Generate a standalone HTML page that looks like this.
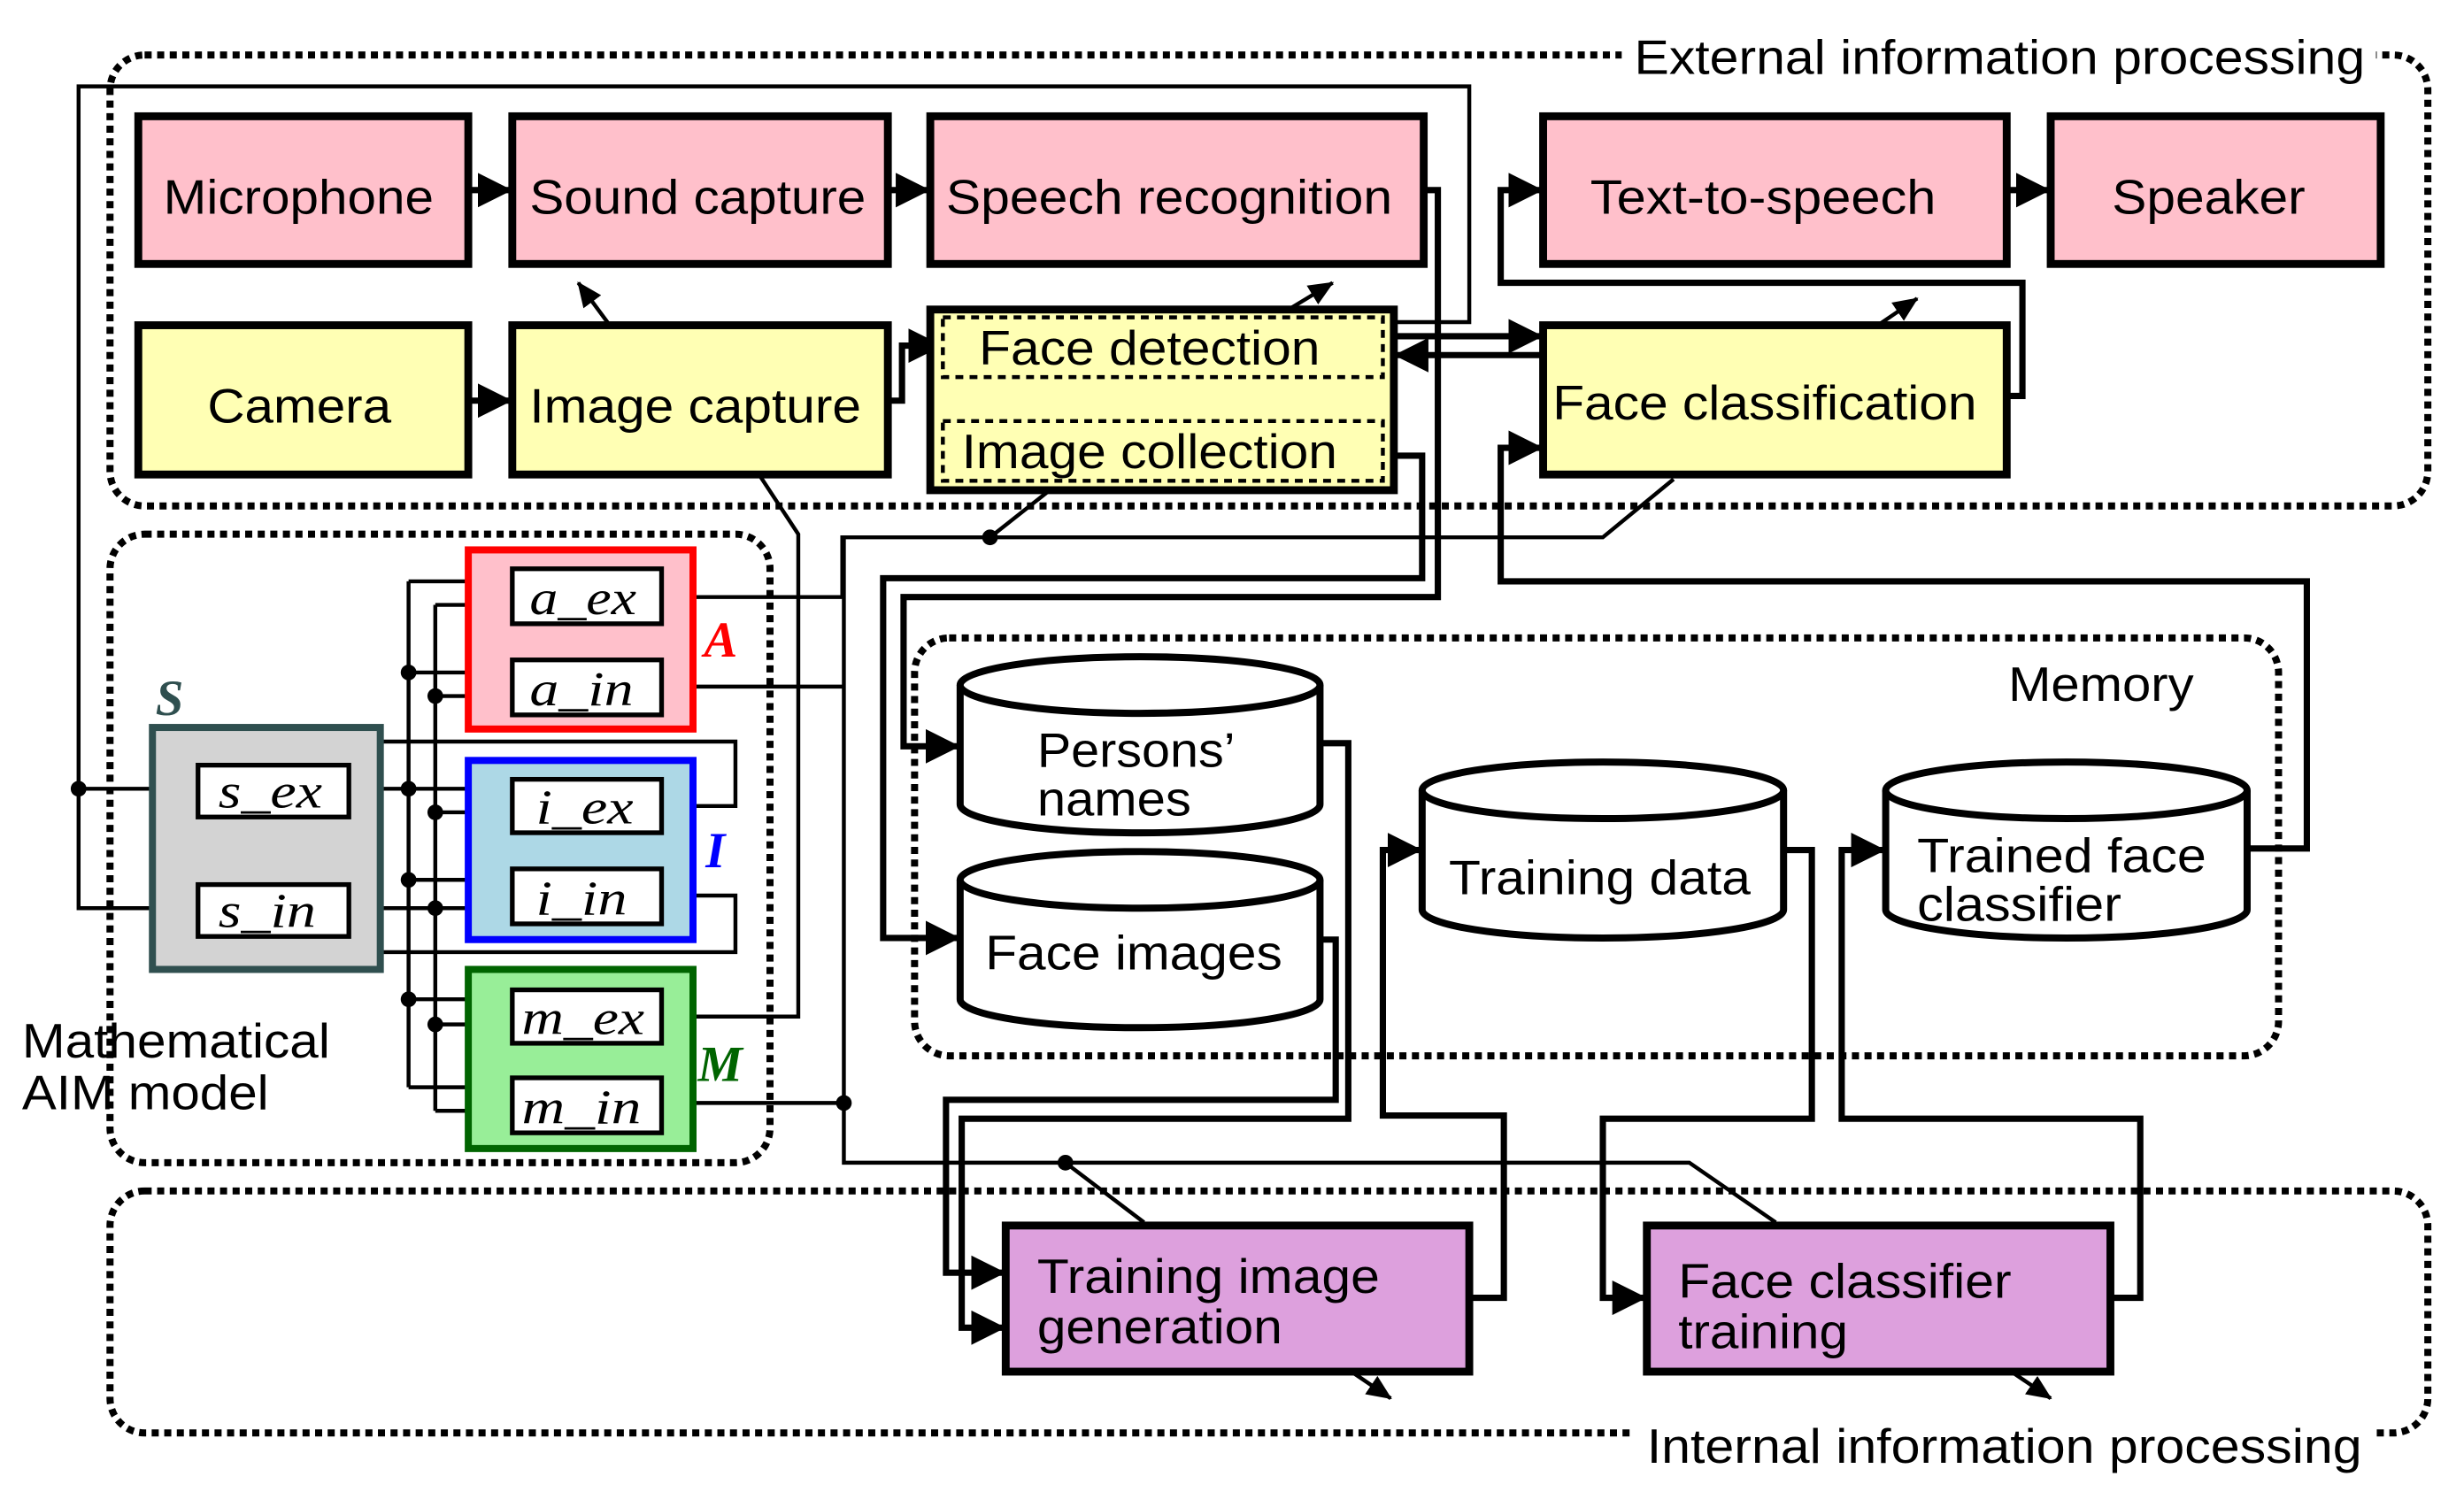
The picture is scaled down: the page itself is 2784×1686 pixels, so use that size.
<!DOCTYPE html>
<html><head><meta charset="utf-8"><style>
html,body{margin:0;padding:0;background:#fff}
svg{display:block}
text{font-family:"Liberation Sans",sans-serif;fill:#000}
.s{font-family:"Liberation Serif",serif;font-style:italic}
</style></head><body>
<svg width="2784" height="1686" viewBox="0 0 1568 949.6" xmlns="http://www.w3.org/2000/svg">
<defs>
<marker id="b" markerWidth="22" markerHeight="22" refX="20" refY="11" orient="auto" markerUnits="userSpaceOnUse"><path d="M0,0 L22,11 L0,22z"/></marker>
<marker id="c" markerWidth="16" markerHeight="16" refX="15" refY="8" orient="auto" markerUnits="userSpaceOnUse"><path d="M0,1 L16,8 L0,15z"/></marker>
</defs>

<g fill="none" stroke="#000" stroke-width="4.5" stroke-dasharray="4.5 3.5">
<rect x="70" y="35" width="1475" height="287" rx="22"/>
<rect x="582" y="406" width="868" height="266" rx="22"/>
<rect x="70" y="340" width="420" height="400" rx="22"/>
<rect x="70" y="758" width="1475" height="154" rx="22"/>
</g>
<rect x="1032" y="18" width="480" height="36" fill="#fff"/>
<text x="1040" y="47" font-size="31" textLength="465" lengthAdjust="spacingAndGlyphs">External information processing</text>
<rect x="1040" y="896" width="470" height="40" fill="#fff"/>
<text x="1048" y="931" font-size="31" textLength="455" lengthAdjust="spacingAndGlyphs">Internal information processing</text>
<g font-size="31" lengthAdjust="spacingAndGlyphs">
<text x="1278" y="446" textLength="118" lengthAdjust="spacingAndGlyphs">Memory</text>
<text x="14" y="673" textLength="196" lengthAdjust="spacingAndGlyphs">Mathematical</text>
<text x="14" y="706" textLength="157" lengthAdjust="spacingAndGlyphs">AIM model</text>
</g>

<g fill="none" stroke="#000" stroke-width="2.5">
<path d="M50,502 V55 H935 V205 H888"/>
<path d="M50,502 H124" marker-end="url(#c)"/>
<path d="M50,502 V578 H124" marker-end="url(#c)"/>
<path d="M222,502 H260 M222,578 H277"/>
<path d="M260,370 V692 M277,385 V707"/>
<path d="M260,370 H324" marker-end="url(#c)"/><path d="M277,385 H324" marker-end="url(#c)"/>
<path d="M260,428 H324" marker-end="url(#c)"/><path d="M277,443 H324" marker-end="url(#c)"/>
<path d="M260,502 H324" marker-end="url(#c)"/><path d="M277,517 H324" marker-end="url(#c)"/>
<path d="M260,560 H324" marker-end="url(#c)"/><path d="M277,578 H324" marker-end="url(#c)"/>
<path d="M260,636 H324" marker-end="url(#c)"/><path d="M277,652 H324" marker-end="url(#c)"/>
<path d="M260,692 H324" marker-end="url(#c)"/><path d="M277,707 H324" marker-end="url(#c)"/>
<path d="M421,513 H468 V472 H196 L185,486"/>
<path d="M421,570 H468 V606 H212 L200,596"/>
<path d="M160,522 L135,540" marker-end="url(#c)"/>
<path d="M165,563 L145,543" marker-end="url(#c)"/>
<path d="M421,380 H536 V342 H630 M630,342 H1020 L1065,305"/>
<path d="M630,342 L668,312"/>
<path d="M421,437 H536"/>
<path d="M421,647 H508 V340 L483,302"/>
<path d="M421,702 H537 V342"/>
<path d="M537,702 V740 H1075 L1130,778"/>
<path d="M678,740 L728,778"/>
<path d="M388,207 L368,180" marker-end="url(#c)"/>
<path d="M820,197 L848,180" marker-end="url(#c)"/>
<path d="M1195,207 L1220,190" marker-end="url(#c)"/>
<path d="M860,873 L885,890" marker-end="url(#c)"/>
<path d="M1280,873 L1305,890" marker-end="url(#c)"/>
</g>
<g fill="#000">
<circle cx="50" cy="502" r="5"/><circle cx="260" cy="428" r="5"/><circle cx="277" cy="443" r="5"/>
<circle cx="260" cy="502" r="5"/><circle cx="277" cy="517" r="5"/><circle cx="260" cy="560" r="5"/>
<circle cx="277" cy="578" r="5"/><circle cx="260" cy="636" r="5"/><circle cx="277" cy="652" r="5"/>
<circle cx="630" cy="342" r="5"/><circle cx="537" cy="702" r="5"/><circle cx="678" cy="740" r="5"/>
</g>

<g fill="none" stroke="#000" stroke-width="4">
<path d="M298,121 H324" marker-end="url(#b)"/>
<path d="M565,121 H590" marker-end="url(#b)"/>
<path d="M298,255 H324" marker-end="url(#b)"/>
<path d="M565,255 H574 V220 H598" marker-end="url(#b)"/>
<path d="M1277,121 H1303" marker-end="url(#b)"/>
<path d="M735,240 V266" marker-end="url(#b)"/>
<path d="M887,214 H980" marker-end="url(#b)"/>
<path d="M980,226 H889" marker-end="url(#b)"/>
<path d="M906,121 H915 V380 H575 V475 H609" marker-end="url(#b)"/>
<path d="M880,290 H905 V368 H562 V597 H609" marker-end="url(#b)"/>
<path d="M1277,252 H1287 V180 H955 V121 H980" marker-end="url(#b)"/>
<path d="M1430,540 H1468 V370 H955 V285 H980" marker-end="url(#b)"/>
<path d="M840,473 H858 V712 H612 V845 H638" marker-end="url(#b)"/>
<path d="M840,598 H850 V700 H602 V810 H638" marker-end="url(#b)"/>
<path d="M935,826 H957 V710 H880 V541 H903" marker-end="url(#b)"/>
<path d="M1135,541 H1153 V712 H1020 V826 H1046" marker-end="url(#b)"/>
<path d="M1343,826 H1362 V712 H1172 V541 H1198" marker-end="url(#b)"/>
</g>

<g stroke="#000" stroke-width="5">
<rect x="88" y="74" width="210" height="94" fill="#ffc0cb"/>
<rect x="326" y="74" width="239" height="94" fill="#ffc0cb"/>
<rect x="592" y="74" width="314" height="94" fill="#ffc0cb"/>
<rect x="982" y="74" width="295" height="94" fill="#ffc0cb"/>
<rect x="1305" y="74" width="210" height="94" fill="#ffc0cb"/>
<rect x="88" y="207" width="210" height="95" fill="#ffffb4"/>
<rect x="326" y="207" width="239" height="95" fill="#ffffb4"/>
<rect x="592" y="197" width="295" height="115" fill="#ffffb4"/>
<rect x="982" y="207" width="295" height="95" fill="#ffffb4"/>
<rect x="640" y="780" width="295" height="93" fill="#dda0dd"/>
<rect x="1048" y="780" width="295" height="93" fill="#dda0dd"/>
</g>
<g fill="none" stroke="#000" stroke-width="2.5" stroke-dasharray="5 4">
<rect x="600" y="202" width="280" height="38"/>
<rect x="600" y="268" width="280" height="38"/>
</g>
<g font-size="31">
<text x="104" y="136" textLength="172" lengthAdjust="spacingAndGlyphs">Microphone</text>
<text x="337" y="136" textLength="214" lengthAdjust="spacingAndGlyphs">Sound capture</text>
<text x="602" y="136" textLength="284" lengthAdjust="spacingAndGlyphs">Speech recognition</text>
<text x="1012" y="136" textLength="220" lengthAdjust="spacingAndGlyphs">Text-to-speech</text>
<text x="1344" y="136" textLength="123" lengthAdjust="spacingAndGlyphs">Speaker</text>
<text x="132" y="269" textLength="117" lengthAdjust="spacingAndGlyphs">Camera</text>
<text x="337" y="269" textLength="211" lengthAdjust="spacingAndGlyphs">Image capture</text>
<text x="623" y="232" textLength="217" lengthAdjust="spacingAndGlyphs">Face detection</text>
<text x="612" y="298" textLength="239" lengthAdjust="spacingAndGlyphs">Image collection</text>
<text x="988" y="267" textLength="270" lengthAdjust="spacingAndGlyphs">Face classification</text>
<text x="660" y="823" textLength="218" lengthAdjust="spacingAndGlyphs">Training image</text>
<text x="660" y="855" textLength="156" lengthAdjust="spacingAndGlyphs">generation</text>
<text x="1068" y="826" textLength="212" lengthAdjust="spacingAndGlyphs">Face classifier</text>
<text x="1068" y="858" textLength="108" lengthAdjust="spacingAndGlyphs">training</text>
</g>

<g fill="#fff" stroke="#000" stroke-width="4.5">
<path d="M611,436 V512 A114,18 0 0 0 840,512 V436"/><ellipse cx="725.5" cy="436" rx="114.5" ry="18"/>
<path d="M611,560 V636 A114,18 0 0 0 840,636 V560"/><ellipse cx="725.5" cy="560" rx="114.5" ry="18"/>
<path d="M905,503 V579 A115,18 0 0 0 1135,579 V503"/><ellipse cx="1020" cy="503" rx="115" ry="18"/>
<path d="M1200,503 V579 A115,18 0 0 0 1430,579 V503"/><ellipse cx="1315" cy="503" rx="115" ry="18"/>
</g>
<g font-size="31">
<text x="660" y="488" textLength="126" lengthAdjust="spacingAndGlyphs">Persons’</text>
<text x="660" y="519" textLength="98" lengthAdjust="spacingAndGlyphs">names</text>
<text x="627" y="617" textLength="189" lengthAdjust="spacingAndGlyphs">Face images</text>
<text x="922" y="569" textLength="192" lengthAdjust="spacingAndGlyphs">Training data</text>
<text x="1220" y="555" textLength="184" lengthAdjust="spacingAndGlyphs">Trained face</text>
<text x="1220" y="586" textLength="130" lengthAdjust="spacingAndGlyphs">classifier</text>
</g>

<rect x="97" y="463" width="145" height="154" fill="#d3d3d3" stroke="#2f4f4f" stroke-width="4.5"/>
<rect x="298" y="350" width="143" height="114" fill="#ffc0cb" stroke="#f00" stroke-width="4.5"/>
<rect x="298" y="484" width="143" height="114" fill="#add8e6" stroke="#00f" stroke-width="4.5"/>
<rect x="298" y="617" width="143" height="114" fill="#98ee98" stroke="#006400" stroke-width="4.5"/>
<g fill="#fff" stroke="#000" stroke-width="3">
<rect x="126" y="487" width="96" height="33"/><rect x="126" y="563" width="96" height="33"/>
<rect x="326" y="362" width="95" height="35"/><rect x="326" y="420" width="95" height="35"/>
<rect x="326" y="496" width="95" height="34"/><rect x="326" y="553" width="95" height="35"/>
<rect x="326" y="630" width="95" height="34"/><rect x="326" y="686" width="95" height="35"/>
</g>
<g font-size="31">
<text x="139" y="514" class="s" textLength="66" lengthAdjust="spacingAndGlyphs">s_ex</text>
<text x="139" y="590" class="s" textLength="62" lengthAdjust="spacingAndGlyphs">s_in</text>
<text x="337" y="391" class="s" textLength="68" lengthAdjust="spacingAndGlyphs">a_ex</text>
<text x="337" y="449" class="s" textLength="66" lengthAdjust="spacingAndGlyphs">a_in</text>
<text x="341" y="524" class="s" textLength="62" lengthAdjust="spacingAndGlyphs">i_ex</text>
<text x="341" y="582" class="s" textLength="58" lengthAdjust="spacingAndGlyphs">i_in</text>
<text x="332" y="658" class="s" textLength="78" lengthAdjust="spacingAndGlyphs">m_ex</text>
<text x="332" y="715" class="s" textLength="76" lengthAdjust="spacingAndGlyphs">m_in</text>
</g>
<g font-weight="bold" font-style="italic" font-size="32">
<text x="99" y="455" style="fill:#2f4f4f;font-family:'Liberation Serif',serif">S</text>
<text x="448" y="418" style="fill:#f00;font-family:'Liberation Serif',serif">A</text>
<text x="449" y="552" style="fill:#00f;font-family:'Liberation Serif',serif">I</text>
<text x="444" y="688" style="fill:#006400;font-family:'Liberation Serif',serif">M</text>
</g>
</svg>
</body></html>
